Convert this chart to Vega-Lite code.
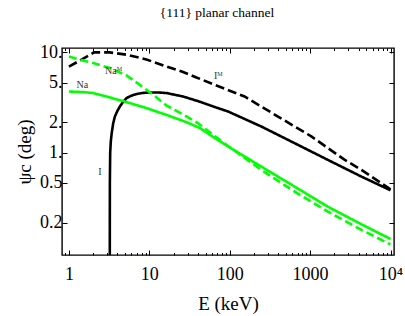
{
  "$schema": "https://vega.github.io/schema/vega-lite/v6.json",
  "width": 332,
  "height": 207,
  "autosize": "none",
  "padding": {"left": 62, "top": 48, "right": 11, "bottom": 61},
  "background": "white",
  "config": {"view": {"stroke": "black", "strokeWidth": 1.4}, "font": "Liberation Serif", "title": {"color": "black"}},
  "title": {"text": "{111} planar channel", "fontSize": 13.5, "fontWeight": "normal", "font": "Liberation Serif", "color": "black", "offset": 24, "dx": -11},
  "datasets": {
    "curves": [
      {"s": "I", "E": 3.22, "psi": 0.05},
      {"s": "I", "E": 3.23, "psi": 0.5},
      {"s": "I", "E": 3.26, "psi": 1.0},
      {"s": "I", "E": 3.32, "psi": 1.3},
      {"s": "I", "E": 3.4, "psi": 1.55},
      {"s": "I", "E": 3.55, "psi": 1.95},
      {"s": "I", "E": 3.73, "psi": 2.29},
      {"s": "I", "E": 4.0, "psi": 2.6},
      {"s": "I", "E": 4.3, "psi": 2.88},
      {"s": "I", "E": 4.7, "psi": 3.2},
      {"s": "I", "E": 5.2, "psi": 3.5},
      {"s": "I", "E": 6.0, "psi": 3.7},
      {"s": "I", "E": 6.9, "psi": 3.84},
      {"s": "I", "E": 8.3, "psi": 3.94},
      {"s": "I", "E": 10, "psi": 3.98},
      {"s": "I", "E": 13, "psi": 3.98},
      {"s": "I", "E": 16.3, "psi": 3.93},
      {"s": "I", "E": 26.3, "psi": 3.63},
      {"s": "I", "E": 42.4, "psi": 3.22},
      {"s": "I", "E": 65, "psi": 2.85},
      {"s": "I", "E": 95.5, "psi": 2.57},
      {"s": "I", "E": 247, "psi": 1.82},
      {"s": "I", "E": 642, "psi": 1.24},
      {"s": "I", "E": 1660, "psi": 0.845},
      {"s": "I", "E": 4350, "psi": 0.575},
      {"s": "I", "E": 10000, "psi": 0.42},
      {"s": "IM", "E": 1, "psi": 7.2},
      {"s": "IM", "E": 2.05, "psi": 10.0},
      {"s": "IM", "E": 3.2, "psi": 10.0},
      {"s": "IM", "E": 5.2, "psi": 9.5},
      {"s": "IM", "E": 9.2, "psi": 8.5},
      {"s": "IM", "E": 16.3, "psi": 7.24},
      {"s": "IM", "E": 26.3, "psi": 6.37},
      {"s": "IM", "E": 38.5, "psi": 5.62},
      {"s": "IM", "E": 65, "psi": 4.75},
      {"s": "IM", "E": 100, "psi": 4.15},
      {"s": "IM", "E": 153, "psi": 3.63},
      {"s": "IM", "E": 247, "psi": 2.88},
      {"s": "IM", "E": 398, "psi": 2.29},
      {"s": "IM", "E": 642, "psi": 1.82},
      {"s": "IM", "E": 1035, "psi": 1.45},
      {"s": "IM", "E": 1660, "psi": 1.11},
      {"s": "IM", "E": 2700, "psi": 0.845},
      {"s": "IM", "E": 4350, "psi": 0.67},
      {"s": "IM", "E": 10000, "psi": 0.43},
      {"s": "Na", "E": 1, "psi": 4.07},
      {"s": "Na", "E": 1.5, "psi": 4.02},
      {"s": "Na", "E": 2.0, "psi": 3.93},
      {"s": "Na", "E": 3.23, "psi": 3.55},
      {"s": "Na", "E": 5.2, "psi": 3.19},
      {"s": "Na", "E": 9.2, "psi": 2.78},
      {"s": "Na", "E": 16.3, "psi": 2.38},
      {"s": "Na", "E": 29, "psi": 2.01},
      {"s": "Na", "E": 42.4, "psi": 1.76},
      {"s": "Na", "E": 65, "psi": 1.4},
      {"s": "Na", "E": 95.5, "psi": 1.15},
      {"s": "Na", "E": 247, "psi": 0.724},
      {"s": "Na", "E": 642, "psi": 0.457},
      {"s": "Na", "E": 1660, "psi": 0.288},
      {"s": "Na", "E": 4350, "psi": 0.192},
      {"s": "Na", "E": 10000, "psi": 0.137},
      {"s": "NaM", "E": 1, "psi": 9.12},
      {"s": "NaM", "E": 1.37, "psi": 8.45},
      {"s": "NaM", "E": 2.0, "psi": 7.83},
      {"s": "NaM", "E": 3.23, "psi": 6.98},
      {"s": "NaM", "E": 5.2, "psi": 5.89},
      {"s": "NaM", "E": 7.6, "psi": 4.75},
      {"s": "NaM", "E": 11.2, "psi": 3.78},
      {"s": "NaM", "E": 16.3, "psi": 2.95},
      {"s": "NaM", "E": 26.3, "psi": 2.4},
      {"s": "NaM", "E": 40, "psi": 1.97},
      {"s": "NaM", "E": 95.5, "psi": 1.16},
      {"s": "NaM", "E": 247, "psi": 0.67},
      {"s": "NaM", "E": 642, "psi": 0.407},
      {"s": "NaM", "E": 1660, "psi": 0.257},
      {"s": "NaM", "E": 4350, "psi": 0.169},
      {"s": "NaM", "E": 10000, "psi": 0.121}
    ],
    "labels": [
      {"t": "Na", "E": 1.47, "psi": 4.75},
      {"t": "Naᴹ", "E": 3.6, "psi": 6.5},
      {"t": "Iᴹ", "E": 72, "psi": 5.8},
      {"t": "I", "E": 2.43, "psi": 0.641}
    ]
  },
  "layer": [
    {
      "data": {"name": "curves"},
      "mark": {"type": "line", "clip": true, "strokeWidth": 2.6},
      "encoding": {
        "x": {
          "field": "E", "type": "quantitative",
          "scale": {"type": "log", "domain": [0.82, 11050], "nice": false},
          "axis": {
            "orient": "bottom", "title": "E (keV)",
            "values": [0.9, 1, 2, 3, 4, 5, 6, 7, 8, 9, 10, 20, 30, 40, 50, 60, 70, 80, 90, 100, 200, 300, 400, 500, 600, 700, 800, 900, 1000, 2000, 3000, 4000, 5000, 6000, 7000, 8000, 9000, 10000],
            "labelExpr": "abs(log(datum.value)/LN10 - round(log(datum.value)/LN10)) < 0.001 ? (datum.value == 10000 ? '10⁴' : format(datum.value, 'd')) : ''",
            "grid": false, "domain": false, "tickColor": "black", "tickWidth": 1,
            "tickSize": {"condition": {"test": "abs(log(datum.value)/LN10 - round(log(datum.value)/LN10)) < 0.001", "value": -5}, "value": -2.5},
            "labelFontSize": 18, "labelFont": "Liberation Serif", "labelColor": "black", "labelPadding": 15,
            "labelFlush": false, "labelOverlap": false,
            "titleFontSize": 19, "titleFont": "Liberation Serif", "titleFontWeight": "normal", "titleColor": "black", "titlePadding": 9
          }
        },
        "y": {
          "field": "psi", "type": "quantitative",
          "scale": {"type": "log", "domain": [0.0948, 11.07], "nice": false},
          "axis": {
            "orient": "left", "title": "ψc (deg)",
            "values": [0.2, 0.5, 1, 2, 5, 10],
            "labelExpr": "datum.value >= 1 ? format(datum.value, 'd') + '.' : format(datum.value, '.1f')",
            "grid": false, "domain": false, "tickColor": "black", "tickWidth": 1, "tickSize": -5,
            "labelFontSize": 18, "labelFont": "Liberation Serif", "labelColor": "black", "labelPadding": 5,
            "labelFlush": false, "labelOverlap": false,
            "titleFontSize": 19, "titleFont": "Liberation Serif", "titleFontWeight": "normal", "titleColor": "black", "titlePadding": 5
          }
        },
        "color": {"field": "s", "type": "nominal", "scale": {"domain": ["I", "IM", "Na", "NaM"], "range": ["black", "black", "#00ff00", "#00ff00"]}, "legend": null},
        "strokeDash": {"field": "s", "type": "nominal", "scale": {"domain": ["I", "IM", "Na", "NaM"], "range": [[1, 0], [9, 4], [1, 0], [8, 4]]}, "legend": null}
      }
    },
    {
      "data": {"name": "labels"},
      "mark": {"type": "text", "fontSize": 10, "color": "#333", "font": "Liberation Serif"},
      "encoding": {
        "x": {
          "field": "E", "type": "quantitative",
          "scale": {"type": "log", "domain": [0.82, 11050], "nice": false},
          "axis": {
            "orient": "top", "title": null, "labels": false,
            "values": [0.9, 1, 2, 3, 4, 5, 6, 7, 8, 9, 10, 20, 30, 40, 50, 60, 70, 80, 90, 100, 200, 300, 400, 500, 600, 700, 800, 900, 1000, 2000, 3000, 4000, 5000, 6000, 7000, 8000, 9000, 10000],
            "grid": false, "domain": false, "tickColor": "black", "tickWidth": 1,
            "tickSize": {"condition": {"test": "abs(log(datum.value)/LN10 - round(log(datum.value)/LN10)) < 0.001", "value": -5}, "value": -2.5}
          }
        },
        "y": {
          "field": "psi", "type": "quantitative",
          "scale": {"type": "log", "domain": [0.0948, 11.07], "nice": false},
          "axis": {
            "orient": "right", "title": null, "labels": false,
            "values": [0.2, 0.5, 1, 2, 5, 10],
            "grid": false, "domain": false, "tickColor": "black", "tickWidth": 1, "tickSize": -5
          }
        },
        "text": {"field": "t", "type": "nominal"}
      }
    }
  ],
  "resolve": {"axis": {"x": "independent", "y": "independent"}}
}
